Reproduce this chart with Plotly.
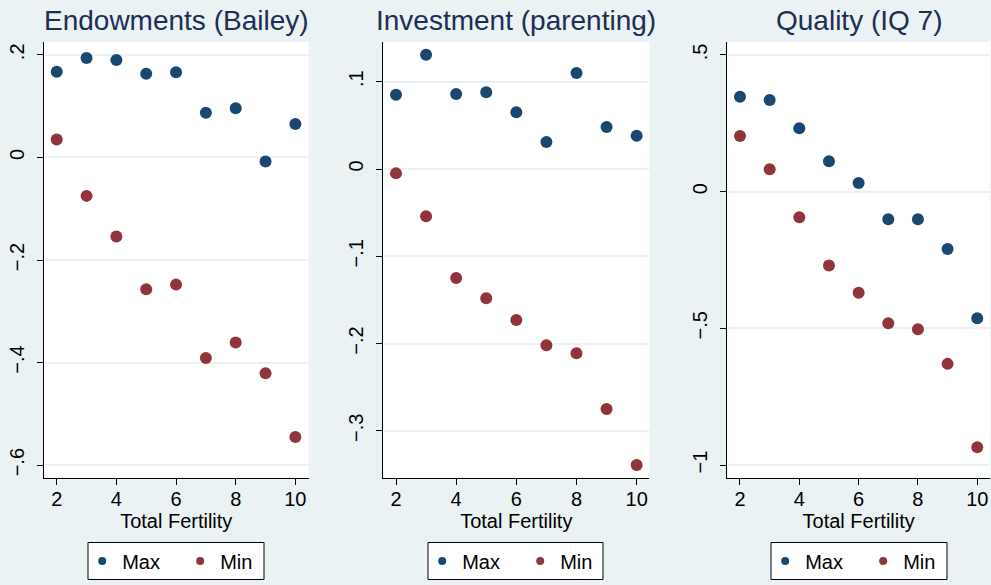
import plotly.graph_objects as go

fertility = [2, 3, 4, 5, 6, 7, 8, 9, 10]

panel_titles = ["Endowments (Bailey)", "Investment (parenting)", "Quality (IQ 7)"]

endow_max = [0.167, 0.194, 0.190, 0.163, 0.166, 0.087, 0.096, -0.008, 0.065]
endow_min = [0.035, -0.075, -0.154, -0.257, -0.248, -0.391, -0.361, -0.421, -0.545]

invest_max = [0.085, 0.131, 0.086, 0.088, 0.065, 0.031, 0.110, 0.048, 0.038]
invest_min = [-0.005, -0.054, -0.125, -0.148, -0.173, -0.202, -0.211, -0.275, -0.339]

quality_max = [0.347, 0.335, 0.232, 0.111, 0.032, -0.101, -0.101, -0.210, -0.463]
quality_min = [0.204, 0.082, -0.094, -0.270, -0.370, -0.481, -0.503, -0.630, -0.935]

y_tickvals = [[-0.6, -0.4, -0.2, 0, 0.2], [-0.3, -0.2, -0.1, 0, 0.1], [-1, -0.5, 0, 0.5]]
y_ticktext = [["\u2212.6", "\u2212.4", "\u2212.2", "0", ".2"],
              ["\u2212.3", "\u2212.2", "\u2212.1", "0", ".1"],
              ["\u22121", "\u2212.5", "0", ".5"]]
y_ranges = [[-0.625, 0.225], [-0.354, 0.1455], [-1.0475, 0.5475]]
x_ranges = [[1.574, 10.44], [1.578, 10.42], [1.572, 10.43]]
x_tickvals = [2, 4, 6, 8, 10]

W, H = 991, 585
x_domains_px = [(44, 308.5), (383.3, 649.3), (727.3, 990)]
y_top_px, y_bot_px = 42, 478
legend_box_px = [(88, 264), (428, 603), (771, 947)]
legend_top_px, legend_bot_px = 542.5, 579.5

NAVY = "#1a476f"
MAROON = "#90353b"
BG = "#eaf2f3"
FONT = "Liberation Sans, Arial, sans-serif"

series = [(endow_max, endow_min), (invest_max, invest_min), (quality_max, quality_min)]

fig = go.Figure()
for i, (mx, mn) in enumerate(series):
    sfx = "" if i == 0 else str(i + 1)
    leg = "legend" if i == 0 else f"legend{i + 1}"
    for vals, color, name in [(mx, NAVY, "Max"), (mn, MAROON, "Min")]:
        fig.add_trace(go.Scatter(
            x=fertility, y=vals, mode="markers", name=name,
            marker=dict(color=color, size=12, line=dict(width=0)),
            xaxis="x" + sfx, yaxis="y" + sfx, showlegend=False,
        ))
        fig.add_trace(go.Scatter(
            x=[None], y=[None], mode="markers", name=name,
            marker=dict(color=color, size=8, line=dict(width=0)),
            xaxis="x" + sfx, yaxis="y" + sfx, showlegend=True, legend=leg,
        ))

layout = dict(
    width=W, height=H,
    margin=dict(l=0, r=0, t=0, b=0),
    paper_bgcolor=BG, plot_bgcolor="white",
    font=dict(family=FONT, size=20, color="black"),
    annotations=[], shapes=[],
)

ydom = [1 - y_bot_px / H, 1 - y_top_px / H]
for i in range(3):
    sfx = "" if i == 0 else str(i + 1)
    x0, x1 = x_domains_px[i]
    layout["xaxis" + sfx] = dict(
        domain=[x0 / W, x1 / W], range=x_ranges[i], anchor="y" + sfx,
        tickvals=x_tickvals, ticks="outside", ticklen=6, tickcolor="black",
        tickwidth=1.2, showline=True, linecolor="black", linewidth=1.2,
        showgrid=False, zeroline=False, ticklabelstandoff=-3,
        title=dict(text="Total Fertility", font=dict(size=20), standoff=0),
        tickfont=dict(size=20),
    )
    layout["yaxis" + sfx] = dict(
        domain=ydom, range=y_ranges[i], anchor="x" + sfx,
        tickvals=y_tickvals[i], ticktext=y_ticktext[i], tickangle=-90,
        ticks="outside", ticklen=6, tickcolor="black", tickwidth=1.2,
        showline=True, linecolor="black", linewidth=1.2,
        showgrid=True, gridcolor=BG, gridwidth=1.5, zeroline=False,
        tickfont=dict(size=20), ticklabelstandoff=5,
    )
    bx0, bx1 = legend_box_px[i]
    layout["shapes"].append(dict(
        type="rect", xref="paper", yref="paper", layer="above",
        x0=bx0 / W, x1=bx1 / W, y0=1 - legend_bot_px / H, y1=1 - legend_top_px / H,
        fillcolor="white", line=dict(color="black", width=1),
    ))
    leg = "legend" if i == 0 else f"legend{i + 1}"
    layout[leg] = dict(
        orientation="h", x=(bx0 - 5.8) / W, xanchor="left",
        y=1 - (legend_top_px - 1) / H, yanchor="top",
        bgcolor="rgba(0,0,0,0)", borderwidth=0,
        font=dict(size=20), entrywidth=53, entrywidthmode="pixels",
        itemclick=False, itemdoubleclick=False,
    )
    layout["annotations"].append(dict(
        text=panel_titles[i], x=(x0 + x1) / 2 / W, y=1 - 21 / H,
        xref="paper", yref="paper", xanchor="center", yanchor="middle",
        showarrow=False, font=dict(size=28, color="#1e2d53", family=FONT),
    ))

fig.update_layout(**layout)
fig.write_html(
    "out.html",
    config={"displayModeBar": False},
    post_script="document.body.style.margin='0';document.body.style.overflow='hidden';",
)
